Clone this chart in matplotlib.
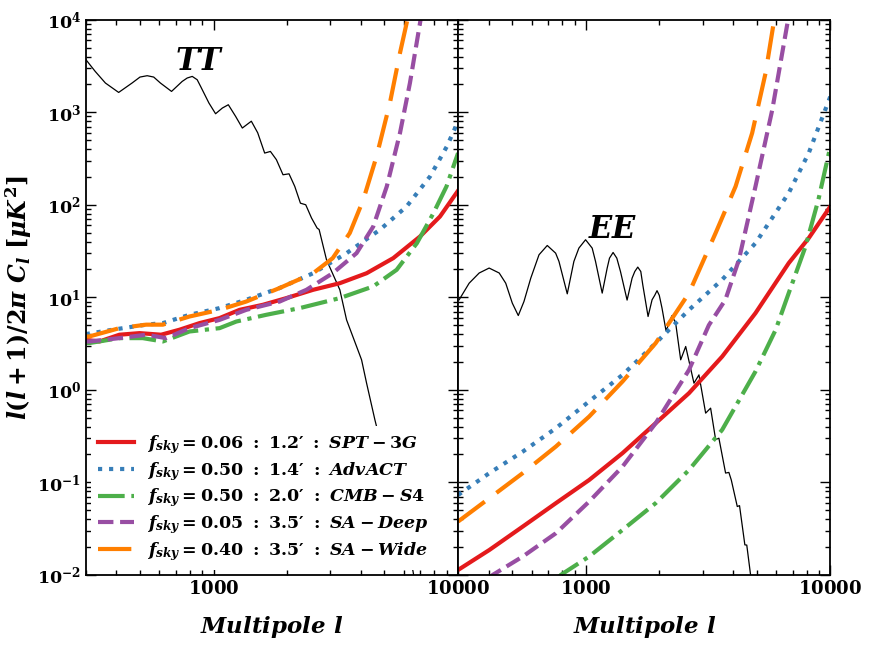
import math
import matplotlib
matplotlib.use("Agg")
import matplotlib.pyplot as plt
from matplotlib.ticker import FixedLocator, LogLocator, NullFormatter, FuncFormatter

# --- fonts: bold serif math everywhere (mimics \boldmath) ---
plt.rcParams["font.family"] = "DejaVu Serif"
plt.rcParams["font.weight"] = "bold"
plt.rcParams["mathtext.fontset"] = "custom"
plt.rcParams["mathtext.rm"] = "DejaVu Serif:bold"
plt.rcParams["mathtext.it"] = "DejaVu Serif:italic:bold"
plt.rcParams["mathtext.bf"] = "DejaVu Serif:bold"

# --- TT panel data ---
tt_l = [299, 328, 361, 409, 464, 500, 535, 569, 606, 673, 744, 780, 818, 857, 885, 957, 1019, 1086, 1149,
        1231, 1311, 1427, 1515, 1618, 1708, 1807, 1923, 2035, 2148, 2266, 2382, 2515,
        2651, 2702, 2897, 3284, 3499, 3845, 4030, 4225, 4569, 5200, 5800, 6540, 6800]
tt_cl = [3760, 2761, 2069, 1637, 2069, 2400, 2482, 2400, 2069, 1679, 2153, 2344, 2439, 2245, 1901, 1258, 963, 1110, 1205,
         901, 675, 800, 600, 362, 377, 307, 211, 216, 158, 104, 100, 72,
         56, 54, 25.4, 12.05, 5.7, 2.94, 2.11, 1.18, 0.474, 0.12, 0.04, 0.011, 0.006]

tt_spt_l = [300, 341, 412, 498, 610, 725, 876, 1058, 1278, 1592, 1985, 2554, 3283, 4226, 5432, 6988, 8432, 10000]
tt_spt = [3.47, 3.33, 3.94, 4.1, 3.94, 4.46, 5.26, 5.96, 7.32, 8.3, 9.8, 12.05, 14.2, 18.2, 26.5, 45.4, 74.6, 142]

tt_act_l = [300, 386, 530, 620, 797, 1058, 1361, 1864, 2554, 3500, 4791, 6162, 7678, 9000, 10000]
tt_act = [4.0, 4.46, 5.06, 5.26, 6.47, 7.64, 9.4, 12.6, 18.2, 30, 53.7, 96, 202, 427, 796]

tt_s4_l = [300, 310, 412, 513, 620, 797, 1058, 1239, 1643, 2251, 3283, 4496, 5606, 6788, 7926, 8970, 10000]
tt_s4 = [3.2, 3.2, 3.62, 3.62, 3.33, 4.27, 4.64, 5.47, 6.47, 7.64, 9.8, 13.1, 19.8, 38.5, 81, 158, 362]

tt_deep_l = [300, 310, 412, 530, 640, 797, 1058, 1361, 1864, 2398, 3071, 3844, 4496, 5111, 5787, 6355, 6988, 7200]
tt_deep = [3.33, 3.33, 3.62, 3.94, 3.62, 4.64, 5.7, 7.32, 9.0, 12.05, 18.2, 30, 58, 158, 596, 2070, 9200, 15000]

tt_wide_l = [300, 310, 412, 530, 620, 797, 1058, 1361, 1864, 2554, 3071, 3607, 4094, 4640, 5262, 5787, 6162, 6400]
tt_wide = [3.77, 3.77, 4.64, 5.06, 5.06, 6.2, 7.32, 9.0, 12.6, 18.2, 26.5, 49.5, 113, 333, 1256, 4370, 9200, 15000]

# --- EE panel data ---
ee_l = [303, 333, 366, 402, 442, 470, 500, 529, 558, 595, 643, 695, 752, 776, 839, 893, 936, 997, 1061,
        1095, 1166, 1222, 1249, 1292, 1338, 1385, 1474, 1545, 1585, 1630, 1677, 1709, 1796, 1865,
        1912, 1954, 1996, 2048, 2127, 2250, 2329, 2442, 2560, 2767,
        2900, 3089, 3237, 3393, 3500, 3727, 3845, 3933, 4161, 4250, 4469, 4550, 4716, 4800]
ee_cl = [9.4, 14.2, 18.3, 20.7, 18.3, 14.2, 8.65, 6.35, 9.0, 16.1, 28.8, 36.3, 30.0, 24.4, 10.9, 24.4, 34, 41.9, 34,
         24.4, 11.1, 20.7, 26.5, 30.5, 26.5, 19.0, 9.33, 16.1, 19.0, 21.2, 19.0, 13.6, 6.2, 9.4,
         10.5, 11.8, 10.5, 7.64, 4.34, 6.35, 5.26, 2.11, 2.94, 1.18,
         1.45, 0.56, 0.634, 0.29, 0.30, 0.126, 0.128, 0.106, 0.0548, 0.056, 0.0211, 0.021, 0.01, 0.008]

ee_spt_l = [300, 403, 552, 754, 1031, 1412, 1930, 2640, 3610, 4940, 6755, 8155, 10000]
ee_spt = [0.0113, 0.0186, 0.0333, 0.0596, 0.106, 0.207, 0.436, 0.92, 2.29, 6.75, 23.4, 43.6, 96]

ee_act_l = [300, 403, 552, 754, 1031, 1412, 1930, 2640, 3610, 4940, 6755, 8155, 10000]
ee_act = [0.073, 0.126, 0.215, 0.385, 0.75, 1.45, 3.2, 7.3, 15.5, 38.5, 134, 362, 1483]

ee_s4_l = [760, 790, 1031, 1412, 1930, 2640, 3610, 4940, 5975, 6755, 7913, 8930, 10000]
ee_s4 = [0.009, 0.01, 0.0158, 0.0306, 0.0596, 0.136, 0.37, 1.58, 4.46, 11.1, 35.4, 113, 427]

ee_deep_l = [400, 416, 552, 754, 1031, 1412, 1930, 2640, 3184, 3720, 4225, 4940, 5786, 6640, 6900]
ee_deep = [0.009, 0.01, 0.0158, 0.0282, 0.062, 0.148, 0.436, 1.64, 5.0, 9.4, 25.4, 158, 1065, 8470, 15000]

ee_wide_l = [300, 403, 552, 754, 1031, 1412, 1930, 2640, 3393, 4096, 4787, 5432, 5862, 6100]
ee_wide = [0.0377, 0.0675, 0.126, 0.244, 0.514, 1.23, 3.2, 11.1, 49.5, 158, 596, 2654, 9200, 15000]

labels = [r"$f_{sky} = 0.06\ :\ 1.2\prime\ :\ SPT-3G$",
          r"$f_{sky} = 0.50\ :\ 1.4\prime\ :\ AdvACT$",
          r"$f_{sky} = 0.50\ :\ 2.0\prime\ :\ CMB-S4$",
          r"$f_{sky} = 0.05\ :\ 3.5\prime\ :\ SA-Deep$",
          r"$f_{sky} = 0.40\ :\ 3.5\prime\ :\ SA-Wide$"]
colors = ["#e41a1c", "#377eb8", "#4daf4a", "#984ea3", "#ff7f00"]
styles = ["-", ":", "-.", "--", (0, (8, 3.5))]

x_major = [1000, 10000]
y_major = [1e-2, 1e-1, 1e0, 1e1, 1e2, 1e3, 1e4]

fig, axes = plt.subplots(1, 2, figsize=(8.75, 6.57), dpi=100, sharey=True)
fig.subplots_adjust(left=0.098, right=0.949, bottom=0.125, top=0.970, wspace=0)

panels = [
    (axes[0], tt_l, tt_cl, [(tt_spt_l, tt_spt), (tt_act_l, tt_act), (tt_s4_l, tt_s4),
                           (tt_deep_l, tt_deep), (tt_wide_l, tt_wide)]),
    (axes[1], ee_l, ee_cl, [(ee_spt_l, ee_spt), (ee_act_l, ee_act), (ee_s4_l, ee_s4),
                           (ee_deep_l, ee_deep), (ee_wide_l, ee_wide)]),
]

for ax, sl, scl, noise in panels:
    ax.plot(sl, scl, color="black", lw=0.9)
    for (nl, nv), c, ls, lab in zip(noise, colors, styles, labels):
        ax.plot(nl, nv, color=c, ls=ls, lw=3, label=lab)
    ax.set_xscale("log")
    ax.set_yscale("log")
    ax.set_xlim(300, 10000)
    ax.set_ylim(1e-2, 1e4)
    ax.xaxis.set_major_locator(FixedLocator(x_major))
    ax.xaxis.set_major_formatter(FuncFormatter(lambda v, p: r"$\mathbf{%d}$" % v))
    ax.xaxis.set_minor_locator(LogLocator(base=10, subs=range(2, 10)))
    ax.xaxis.set_minor_formatter(NullFormatter())
    ax.yaxis.set_major_locator(FixedLocator(y_major))
    ax.yaxis.set_minor_locator(LogLocator(base=10, subs=range(2, 10), numticks=20))
    ax.yaxis.set_minor_formatter(NullFormatter())
    ax.tick_params(which="both", direction="in", top=True, right=True, width=1.0, labelsize=13)
    ax.tick_params(which="major", length=7)
    ax.tick_params(which="minor", length=3.5)
    for s in ax.spines.values():
        s.set_linewidth(1.3)
    ax.set_xlabel(r"$Multipole\ l$", fontsize=16.5, labelpad=12)

axes[0].yaxis.set_major_formatter(FuncFormatter(lambda v, p: r"$\mathbf{10^{%d}}$" % round(math.log10(v))))
axes[0].tick_params(axis="y", labelsize=12.5)
axes[0].set_ylabel(r"$l(l+1)/2\pi\ C_l\ [\mu K^2]$", fontsize=17, labelpad=2)

axes[0].text(876, 2880, r"$TT$", fontsize=22, ha="center", va="baseline")
axes[1].text(1289, 44, r"$EE$", fontsize=22, ha="center", va="baseline")

leg = axes[0].legend(loc="lower left", fontsize=12.5, handlelength=2.1, handletextpad=0.75,
                     labelspacing=0.22, frameon=True, fancybox=False, borderaxespad=0.3)
leg.get_frame().set_edgecolor("none")
leg.get_frame().set_facecolor("white")
leg.get_frame().set_alpha(1)

plt.savefig("out.png", dpi=100)
